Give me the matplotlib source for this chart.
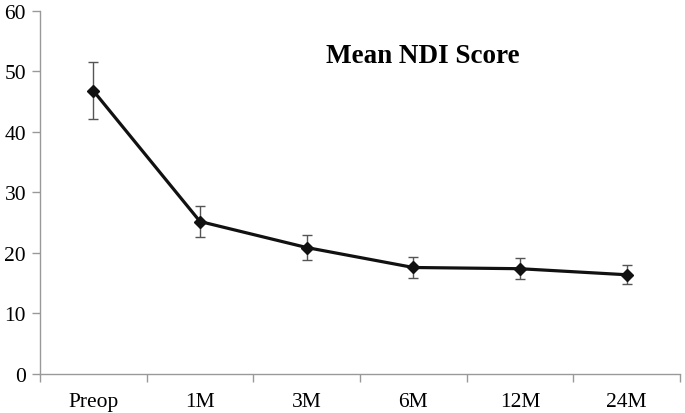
import matplotlib.pyplot as plt
import numpy as np

plt.rcParams['font.family'] = ['Liberation Serif', 'DejaVu Serif']

labels = ['Preop', '1M', '3M', '6M', '12M', '24M']
mean_ndi = [46.8, 25.2, 20.9, 17.6, 17.4, 16.4]
err_hi = [4.7, 2.5, 2.1, 1.7, 1.7, 1.6]
err_lo = [4.7, 2.5, 2.1, 1.7, 1.7, 1.6]

fig = plt.figure(figsize=(6.85, 4.14), dpi=100)
ax = fig.add_axes([0.0584, 0.0942, 0.9343, 0.877])

x = np.arange(len(labels))
ax.errorbar(x, mean_ndi, yerr=[err_lo, err_hi], fmt='none', ecolor='#555555',
            elinewidth=1.0, capsize=3.5, capthick=1.0, zorder=2)
ax.plot(x, mean_ndi, color='#111111', lw=2.3, marker='D', markersize=6.5,
        markerfacecolor='#111111', zorder=3)

ax.set_xlim(-0.5, len(labels) - 0.5)
ax.set_ylim(0, 60)
ax.set_yticks(range(0, 61, 10))
ax.set_xticks(x)
ax.set_xticklabels(labels)
ax.set_xticks(np.arange(-0.5, len(labels), 1.0), minor=True)
ax.tick_params(axis='x', which='major', length=0, pad=13, labelsize=15.5)
ax.tick_params(axis='x', which='minor', length=6, color='#999999', width=1)
ax.tick_params(axis='y', length=6, color='#999999', width=1, labelsize=15.5, pad=4)

for s in ['top', 'right']:
    ax.spines[s].set_visible(False)
for s in ['left', 'bottom']:
    ax.spines[s].set_color('#999999')
    ax.spines[s].set_linewidth(1)

ax.text(0.598, 0.878, 'Mean NDI Score', transform=ax.transAxes, ha='center',
        va='center', fontsize=19.5, fontweight='bold')

fig.savefig('out.png', dpi=100)
